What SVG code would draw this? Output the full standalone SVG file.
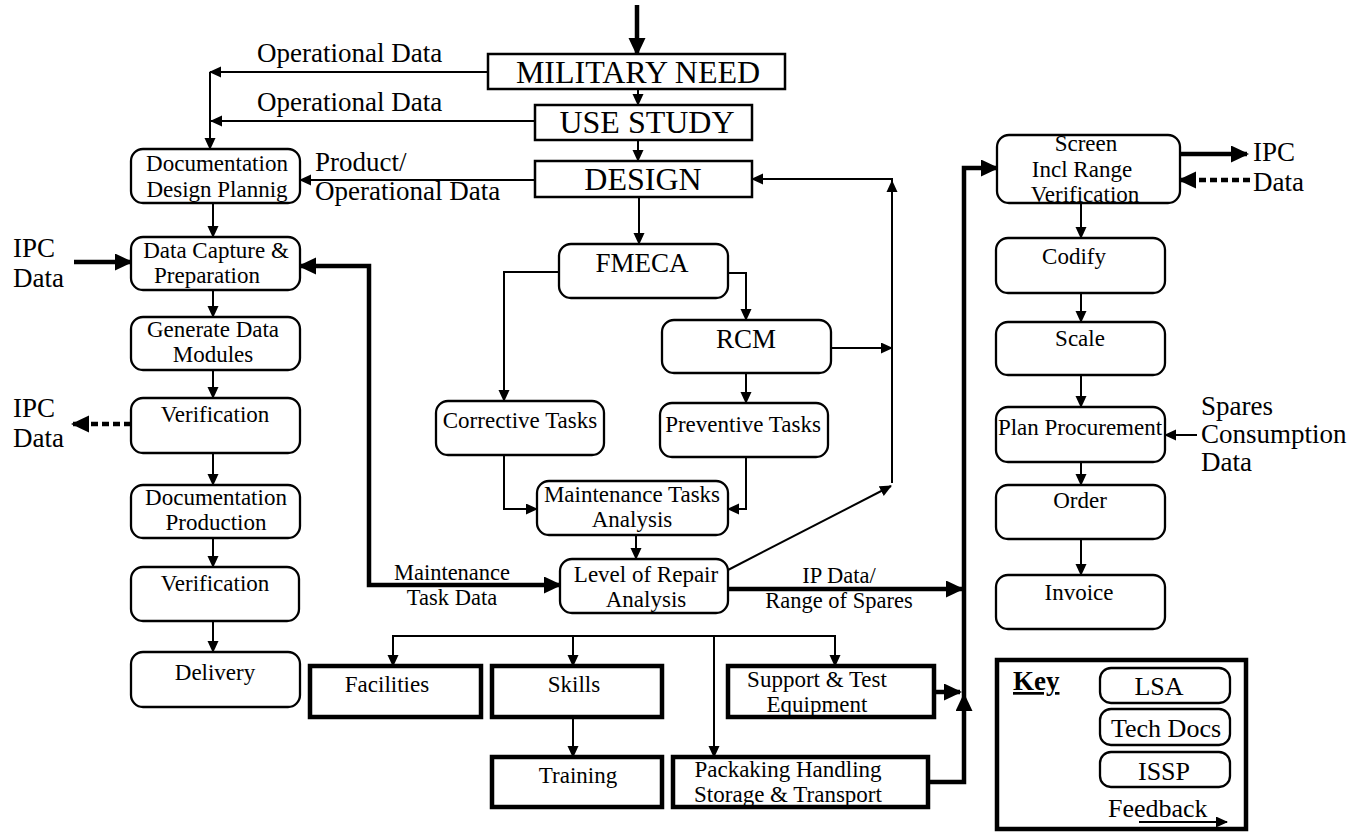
<svg xmlns="http://www.w3.org/2000/svg" width="1353" height="832" viewBox="0 0 1353 832" font-family="'Liberation Serif', serif">
<style>
text{font-family:'Liberation Serif', serif;fill:#000}
.t{font-size:23px;text-anchor:middle}
.big{font-size:32px;text-anchor:middle}
.mid{font-size:27px;text-anchor:middle}
.lab{font-size:27px}
.sm{font-size:22.5px;text-anchor:middle}
.kt{font-size:26px;text-anchor:middle}
.sq{fill:#fff;stroke:#000;stroke-width:2.5}
.rb{fill:#fff;stroke:#000;stroke-width:2.3}
.tb{fill:#fff;stroke:#000;stroke-width:4.5}
.c{fill:none;stroke:#000;stroke-width:2}
.ck{fill:none;stroke:#000;stroke-width:4.5}
.dash{stroke-dasharray:7 4}
</style>
<defs>
<marker id="a" markerUnits="userSpaceOnUse" markerWidth="12" markerHeight="12" refX="11" refY="5.5" orient="auto-start-reverse"><path d="M0,0 L12,5.5 L0,11 z" fill="#000"/></marker>
<marker id="A" markerUnits="userSpaceOnUse" markerWidth="19" markerHeight="18" refX="16" refY="8.5" orient="auto-start-reverse"><path d="M0,0 L18,8.5 L0,17 z" fill="#000"/></marker>
</defs>

<g id="connectors">
<path class="c" d="M638,89 V105" marker-end="url(#a)"/>
<path class="c" d="M638,140 V161" marker-end="url(#a)"/>
<path class="c" d="M639,197 V244" marker-end="url(#a)"/>
<path class="c" d="M488,72 H210" marker-end="url(#a)"/>
<path class="c" d="M210,72 V149" marker-end="url(#a)"/>
<path class="c" d="M535,121 H211" marker-end="url(#a)"/>
<path class="c" d="M535,180 H300" marker-end="url(#a)"/>
<path class="c" d="M213,203 V237" marker-end="url(#a)"/>
<path class="c" d="M213,290 V317" marker-end="url(#a)"/>
<path class="c" d="M213,370 V398" marker-end="url(#a)"/>
<path class="c" d="M213,453 V485" marker-end="url(#a)"/>
<path class="c" d="M213,538 V567" marker-end="url(#a)"/>
<path class="c" d="M213,621 V652" marker-end="url(#a)"/>
<path class="c" d="M559,272 H504 V401" marker-end="url(#a)"/>
<path class="c" d="M728,273 H746 V320" marker-end="url(#a)"/>
<path class="c" d="M746,373 V403" marker-end="url(#a)"/>
<path class="c" d="M831,348 H892" marker-end="url(#a)"/>
<path class="c" d="M504,455 V509 H537" marker-end="url(#a)"/>
<path class="c" d="M746,457 V509 H728" marker-end="url(#a)"/>
<path class="c" d="M636,535 V559" marker-end="url(#a)"/>
<path class="c" d="M728,570 L891,486" marker-end="url(#a)"/>
<path class="c" d="M892,483 V179 H752" marker-end="url(#a)"/>
<path d="M892,180 L897.5,192 L886.5,192 z" fill="#000"/>
<path class="c" d="M1081,203 V238" marker-end="url(#a)"/>
<path class="c" d="M1081,293 V322" marker-end="url(#a)"/>
<path class="c" d="M1081,375 V407" marker-end="url(#a)"/>
<path class="c" d="M1081,462 V485" marker-end="url(#a)"/>
<path class="c" d="M1081,539 V575" marker-end="url(#a)"/>
<path class="c" d="M1197,435 H1165" marker-end="url(#a)"/>
<path class="c" d="M393,666 V636 H835 V666" marker-start="url(#a)" marker-end="url(#a)"/>
<path class="c" d="M573,636 V666" marker-end="url(#a)"/>
<path class="c" d="M714,636 V757" marker-end="url(#a)"/>
<path class="c" d="M573,717 V757" marker-end="url(#a)"/>
<path class="ck" d="M637,5 V54" marker-end="url(#A)"/>
<path class="ck" d="M74,262 H131" marker-end="url(#A)"/>
<path class="ck" d="M560,585 H369 V266 H300" marker-start="url(#A)" marker-end="url(#A)"/>
<path class="ck" d="M728,589 H962" marker-end="url(#A)"/>
<path class="ck" d="M964,695 V168 H997" marker-end="url(#A)"/>
<path class="ck" d="M1180,154 H1247" marker-end="url(#A)"/>
<path class="ck dash" d="M1250,180 H1180" marker-end="url(#A)"/>
<path class="ck dash" d="M131,424 H73" marker-end="url(#A)"/>
<path class="ck" d="M934,692 H960" marker-end="url(#A)"/>
<path class="ck" d="M928,782 H964 V695" marker-end="url(#A)"/>
</g>

<g id="labels">
<text class="lab" x="257" y="62">Operational Data</text>
<text class="lab" x="257" y="111">Operational Data</text>
<text class="lab" x="315" y="171">Product/</text>
<text class="lab" x="315" y="200">Operational Data</text>
<text class="lab" x="13" y="257">IPC</text>
<text class="lab" x="13" y="287">Data</text>
<text class="lab" x="13" y="417">IPC</text>
<text class="lab" x="13" y="447">Data</text>
<text class="lab" x="1253" y="161">IPC</text>
<text class="lab" x="1253" y="191">Data</text>
<text class="lab" x="1201" y="415">Spares</text>
<text class="lab" x="1201" y="443">Consumption</text>
<text class="lab" x="1201" y="471">Data</text>
<text class="sm" x="452" y="580">Maintenance</text>
<text class="sm" x="452" y="605">Task Data</text>
<text class="sm" x="839" y="583">IP Data/</text>
<text class="sm" x="839" y="608">Range of Spares</text>
</g>

<g id="military-need"><rect class="sq" x="488" y="54" width="297" height="35"/><text class="big" x="638" y="83">MILITARY NEED</text></g>
<g id="use-study"><rect class="sq" x="535" y="105" width="217" height="35"/><text class="big" x="647" y="133">USE STUDY</text></g>
<g id="design"><rect class="sq" x="535" y="161" width="217" height="36"/><text class="big" x="643" y="190">DESIGN</text></g>

<g id="doc-design-planning"><rect class="rb" x="131" y="149" width="169" height="54" rx="12"/><text class="t" x="217" y="171">Documentation</text><text class="t" x="217" y="197">Design Plannig</text></g>
<g id="data-capture"><rect class="rb" x="131" y="237" width="169" height="53" rx="12"/><text class="t" x="216" y="258">Data Capture &amp;</text><text class="t" x="207" y="283">Preparation</text></g>
<g id="generate-data-modules"><rect class="rb" x="131" y="317" width="169" height="53" rx="12"/><text class="t" x="213" y="337">Generate Data</text><text class="t" x="213" y="362">Modules</text></g>
<g id="verification-1"><rect class="rb" x="131" y="398" width="169" height="55" rx="12"/><text class="t" x="215" y="422">Verification</text></g>
<g id="doc-production"><rect class="rb" x="131" y="485" width="169" height="53" rx="12"/><text class="t" x="216" y="505">Documentation</text><text class="t" x="216" y="530">Production</text></g>
<g id="verification-2"><rect class="rb" x="131" y="567" width="168" height="54" rx="12"/><text class="t" x="215" y="591">Verification</text></g>
<g id="delivery"><rect class="rb" x="131" y="652" width="169" height="55" rx="12"/><text class="t" x="215" y="680">Delivery</text></g>

<g id="fmeca"><rect class="rb" x="559" y="244" width="169" height="54" rx="12"/><text class="mid" x="642" y="272">FMECA</text></g>
<g id="rcm"><rect class="rb" x="662" y="320" width="169" height="53" rx="12"/><text class="mid" x="746" y="348">RCM</text></g>
<g id="corrective-tasks"><rect class="rb" x="436" y="401" width="168" height="54" rx="12"/><text class="t" x="520" y="428">Corrective Tasks</text></g>
<g id="preventive-tasks"><rect class="rb" x="660" y="403" width="168" height="54" rx="12"/><text class="t" x="743" y="432">Preventive Tasks</text></g>
<g id="maintenance-tasks-analysis"><rect class="rb" x="537" y="481" width="191" height="54" rx="12"/><text class="t" x="632" y="502">Maintenance Tasks</text><text class="t" x="632" y="527">Analysis</text></g>
<g id="level-of-repair"><rect class="rb" x="560" y="559" width="168" height="54" rx="12"/><text class="t" x="646" y="582">Level of Repair</text><text class="t" x="646" y="607">Analysis</text></g>

<g id="screen"><rect class="rb" x="997" y="135" width="183" height="68" rx="12"/><text class="t" x="1086" y="151">Screen</text><text class="t" x="1082" y="177">Incl Range</text><text class="t" x="1085" y="202">Verification</text></g>
<g id="codify"><rect class="rb" x="996" y="238" width="169" height="55" rx="12"/><text class="t" x="1074" y="264">Codify</text></g>
<g id="scale"><rect class="rb" x="996" y="322" width="169" height="53" rx="12"/><text class="t" x="1080" y="346">Scale</text></g>
<g id="plan-procurement"><rect class="rb" x="996" y="407" width="169" height="55" rx="12"/><text class="t" x="1080" y="435">Plan Procurement</text></g>
<g id="order"><rect class="rb" x="996" y="485" width="169" height="54" rx="12"/><text class="t" x="1080" y="508">Order</text></g>
<g id="invoice"><rect class="rb" x="996" y="575" width="169" height="54" rx="12"/><text class="t" x="1079" y="600">Invoice</text></g>

<g id="facilities"><rect class="tb" x="310" y="666" width="171" height="51"/><text class="t" x="387" y="692">Facilities</text></g>
<g id="skills"><rect class="tb" x="492" y="666" width="170" height="51"/><text class="t" x="574" y="692">Skills</text></g>
<g id="training"><rect class="tb" x="492" y="757" width="170" height="50"/><text class="t" x="578" y="783">Training</text></g>
<g id="support-test"><rect class="tb" x="728" y="666" width="206" height="51"/><text class="t" x="817" y="687">Support &amp; Test</text><text class="t" x="817" y="712">Equipment</text></g>
<g id="packaging"><rect class="tb" x="673" y="757" width="255" height="50"/><text class="t" x="788" y="777">Packaking Handling</text><text class="t" x="788" y="802">Storage &amp; Transport</text></g>

<g id="key">
<rect x="997" y="660" width="249" height="169" fill="#fff" stroke="#000" stroke-width="4.5"/>
<text x="1013" y="690" style="font-size:27px;font-weight:bold;text-decoration:underline">Key</text>
<rect class="rb" x="1100" y="668" width="130" height="35" rx="11"/><text class="kt" x="1159" y="695">LSA</text>
<rect class="rb" x="1100" y="709" width="130" height="36" rx="11"/><text class="kt" x="1166" y="737">Tech Docs</text>
<rect class="rb" x="1100" y="752" width="130" height="35" rx="11"/><text class="kt" x="1164" y="780">ISSP</text>
<text x="1108" y="817" style="font-size:26px">Feedback</text>
<path class="c" d="M1139,822 H1227" marker-end="url(#a)"/>
</g>
</svg>
